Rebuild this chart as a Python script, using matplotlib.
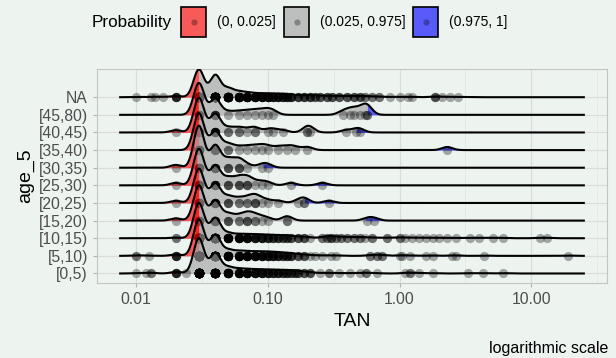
import numpy as np
import matplotlib
matplotlib.use("Agg")
import matplotlib.pyplot as plt
from matplotlib.patches import Rectangle
from matplotlib.ticker import NullFormatter

plt.rcParams['font.family'] = ['Liberation Sans', 'DejaVu Sans']

# rows, bottom to top
age_groups = ["[0,5)", "[5,10)", "[10,15)", "[15,20)", "[20,25)", "[25,30)",
              "[30,35)", "[35,40)", "[40,45)", "[45,80)", "NA"]

# TAN values, with how many points sit at each value
tan_0_5 = [0.01, 0.012, 0.013, 0.02, 0.024, 0.03, 0.04, 0.05, 0.06, 0.07, 0.08, 0.09,
           0.10, 0.11, 0.12, 0.13, 0.14, 0.15, 0.16, 0.17, 0.19, 0.21, 0.25, 0.29,
           0.35, 0.42, 0.50, 0.56, 0.67, 1.1, 1.2, 1.4, 1.8, 3.3, 4.3, 6.1]
cnt_0_5 = [1, 1, 2, 5, 1, 118, 68, 20, 13, 10, 8, 7,
           6, 5, 5, 4, 4, 3, 3, 3, 3, 3, 1, 2,
           1, 1, 1, 2, 1, 1, 2, 1, 1, 1, 1, 1]

tan_5_10 = [0.01, 0.0126, 0.02, 0.03, 0.04, 0.05, 0.06, 0.07, 0.08, 0.09, 0.10, 0.11,
            0.12, 0.13, 0.14, 0.15, 0.17, 0.19, 0.21, 0.23, 0.26, 0.30, 0.33, 0.60,
            0.68, 0.74, 1.0, 1.05, 1.2, 1.6, 1.8, 2.5, 2.7, 4.4, 19.0]
cnt_5_10 = [2, 1, 5, 130, 74, 20, 14, 11, 9, 8, 7, 6,
            5, 4, 4, 4, 3, 3, 1, 1, 1, 1, 1, 2,
            2, 2, 1, 1, 1, 1, 1, 1, 1, 1, 1]

tan_10_15 = [0.02, 0.03, 0.04, 0.05, 0.06, 0.07, 0.08, 0.09, 0.10, 0.11, 0.12, 0.13,
             0.14, 0.15, 0.17, 0.19, 0.21, 0.26, 0.28, 0.30, 0.33, 0.36, 0.40, 0.45,
             0.50, 0.55, 0.62, 0.8, 1.0, 1.1, 1.25, 1.4, 1.6, 1.8, 2.0, 2.3,
             2.7, 3.4, 4.0, 5.1, 6.1, 11.7, 13.2]
cnt_10_15 = [2, 110, 63, 15, 10, 9, 7, 6, 5, 4, 4, 3,
             3, 3, 3, 3, 1, 2, 2, 3, 2, 2, 2, 2,
             2, 1, 2, 2, 2, 1, 1, 1, 1, 1, 1, 1,
             1, 1, 1, 1, 1, 1, 1]

tan_15_20 = [0.02, 0.03, 0.04, 0.05, 0.06, 0.07, 0.08, 0.09, 0.10, 0.14, 0.57, 0.64]
cnt_15_20 = [1, 16, 9, 3, 2, 3, 2, 1, 1, 2, 1, 1]

tan_20_25 = [0.02, 0.03, 0.04, 0.05, 0.06, 0.07, 0.08, 0.09, 0.10, 0.12, 0.17, 0.19, 0.29]
cnt_20_25 = [1, 16, 9, 3, 2, 2, 3, 1, 1, 1, 1, 2, 1]

tan_25_30 = [0.02, 0.03, 0.04, 0.05, 0.06, 0.07, 0.08, 0.09, 0.10, 0.15, 0.26]
cnt_25_30 = [1, 15, 8, 3, 3, 3, 1, 1, 1, 1, 1]

tan_30_35 = [0.02, 0.03, 0.04, 0.05, 0.06, 0.07, 0.09, 0.10]
cnt_30_35 = [1, 15, 8, 3, 3, 1, 1, 1]

tan_35_40 = [0.03, 0.04, 0.05, 0.06, 0.07, 0.08, 0.09, 0.10, 0.12, 0.14, 0.16, 0.20, 2.3]
cnt_35_40 = [12, 6, 2, 1, 1, 1, 1, 1, 1, 1, 1, 1, 1]

tan_40_45 = [0.02, 0.03, 0.04, 0.05, 0.06, 0.07, 0.08, 0.10, 0.11, 0.13, 0.20, 0.21,
             0.39, 0.47, 0.50]
cnt_40_45 = [1, 15, 8, 2, 2, 1, 2, 1, 1, 1, 2, 1,
             1, 1, 1]

tan_45_80 = [0.03, 0.04, 0.05, 0.06, 0.07, 0.08, 0.09, 0.10, 0.11, 0.37, 0.42, 0.45,
             0.50, 0.55, 0.57]
cnt_45_80 = [10, 5, 1, 1, 1, 1, 1, 1, 1, 1, 1, 1,
             1, 1, 2]

tan_na = [0.01, 0.013, 0.014, 0.016, 0.02, 0.03, 0.04, 0.05, 0.06, 0.07, 0.08, 0.09,
          0.10, 0.11, 0.12, 0.13, 0.14, 0.15, 0.17, 0.19, 0.21, 0.23, 0.25, 0.28,
          0.31, 0.35, 0.40, 0.45, 0.50, 0.55, 0.62, 0.70, 0.85, 1.0, 1.15, 1.25,
          1.85, 2.1, 2.4, 2.8]
cnt_na = [1, 1, 1, 1, 5, 120, 95, 36, 20, 14, 10, 8,
          8, 6, 6, 5, 5, 5, 4, 4, 4, 3, 3, 3,
          3, 3, 3, 3, 3, 2, 2, 2, 1, 1, 1, 1,
          3, 1, 1, 1]

tan_values = [tan_0_5, tan_5_10, tan_10_15, tan_15_20, tan_20_25, tan_25_30,
              tan_30_35, tan_35_40, tan_40_45, tan_45_80, tan_na]
tan_counts = [cnt_0_5, cnt_5_10, cnt_10_15, cnt_15_20, cnt_20_25, cnt_25_30,
              cnt_30_35, cnt_35_40, cnt_40_45, cnt_45_80, cnt_na]

prob_labels = ["(0, 0.025]", "(0.025, 0.975]", "(0.975, 1]"]
prob_colors = ["#FF0000A0", "#A0A0A0A0", "#0000FFA0"]

bandwidth = 0.04      # joint bandwidth, log10 units
na_peak = 1.58        # height of the NA ridge, in rows
bg = "#EDF3EF"
W, H = 616, 358

# densities on the log10 scale
logs = [np.log10(np.repeat(v, c)) for v, c in zip(tan_values, tan_counts)]
all_logs = np.concatenate(logs)
lo = all_logs.min() - 3 * bandwidth
hi = all_logs.max() + 3 * bandwidth
grid = np.linspace(lo, hi, 2000)
dens = []
for lg in logs:
    z = (grid[:, None] - lg[None, :]) / bandwidth
    dens.append(np.exp(-0.5 * z ** 2).sum(axis=1) / (len(lg) * bandwidth * np.sqrt(2 * np.pi)))
dmax = max(d.max() for d in dens)
ridge_scale = na_peak * dmax / dens[-1].max()
heights = [d / dmax * ridge_scale for d in dens]

fig = plt.figure(figsize=(W / 100, H / 100), dpi=100)
fig.patch.set_facecolor(bg)
ax = fig.add_axes([97 / W, 75 / H, 510 / W, 214 / H])
ax.set_facecolor(bg)
ax.set_xscale('log')

n_rows = len(age_groups)
for i in range(n_rows - 1, -1, -1):
    h = heights[i]
    zbase = 10 + (n_rows - i) * 3
    q_lo, q_hi = np.quantile(logs[i], [0.025, 0.975])
    bounds = [lo, q_lo, q_hi, hi]
    for k in range(3):
        a, b = bounds[k], bounds[k + 1]
        if b <= a:
            continue
        xs = np.concatenate([[a], grid[(grid > a) & (grid < b)], [b]])
        ys = np.interp(xs, grid, h)
        ax.fill_between(10 ** xs, i, i + ys, color=prob_colors[k], lw=0, zorder=zbase)
    ax.plot(10 ** grid, i + h, color='black', lw=1.5, zorder=zbase + 1)
    pts = np.repeat(tan_values[i], tan_counts[i])
    ax.scatter(pts, np.full(len(pts), i), s=44, color='black', alpha=0.32,
               linewidths=0, zorder=zbase + 2)

pad = 0.05 * (hi - lo)
ax.set_xlim(10 ** (lo - pad), 10 ** (hi + pad))
ax.set_ylim(-0.54, max(i + h.max() for i, h in enumerate(heights)) + 0.02)

ax.set_xticks([0.01, 0.1, 1, 10], labels=["0.01", "0.10", "1.00", "10.00"])
ax.set_xticks(10 ** np.array([-1.5, -0.5, 0.5, 1.5]), minor=True)
ax.xaxis.set_minor_formatter(NullFormatter())
ax.set_yticks(range(n_rows), labels=age_groups)

ax.set_axisbelow(True)
ax.grid(which='major', color='#DCDCDC', lw=0.9)
ax.grid(which='minor', axis='x', color='#E4E4E4', lw=0.5)
for s in ax.spines.values():
    s.set_color('#C4C4C4')
    s.set_linewidth(0.8)
ax.tick_params(which='major', length=3, width=0.8, color='#B3B3B3',
               labelcolor='#4D4D4D', labelsize=11.3)
ax.tick_params(which='minor', length=0)

ax.set_xlabel("TAN", fontsize=14, labelpad=4)
ax.set_ylabel("age_5", fontsize=14, labelpad=3)

# legend across the top
legend_y = 1 - 22 / H
fig.text(92 / W, legend_y, "Probability", fontsize=12.3, ha='left', va='center')
key_left = [181, 284, 413]
for x0, c, lab in zip(key_left, prob_colors, prob_labels):
    fig.add_artist(Rectangle((x0 / W, 1 - 37 / H), 25 / W, 30 / H, transform=fig.transFigure,
                             facecolor=c, edgecolor='black', linewidth=1.2))
    fig.add_artist(plt.Line2D([(x0 + 12.5) / W], [legend_y], transform=fig.transFigure,
                              ls='', marker='o', ms=4.5, mfc='black', mec='none', alpha=0.3))
    fig.text((x0 + 36) / W, legend_y, lab, fontsize=10, ha='left', va='center')

fig.text(608 / W, 1 - 348 / H, "logarithmic scale", fontsize=11.5, ha='right', va='center')

fig.savefig("out.png", dpi=100, facecolor=fig.get_facecolor())
